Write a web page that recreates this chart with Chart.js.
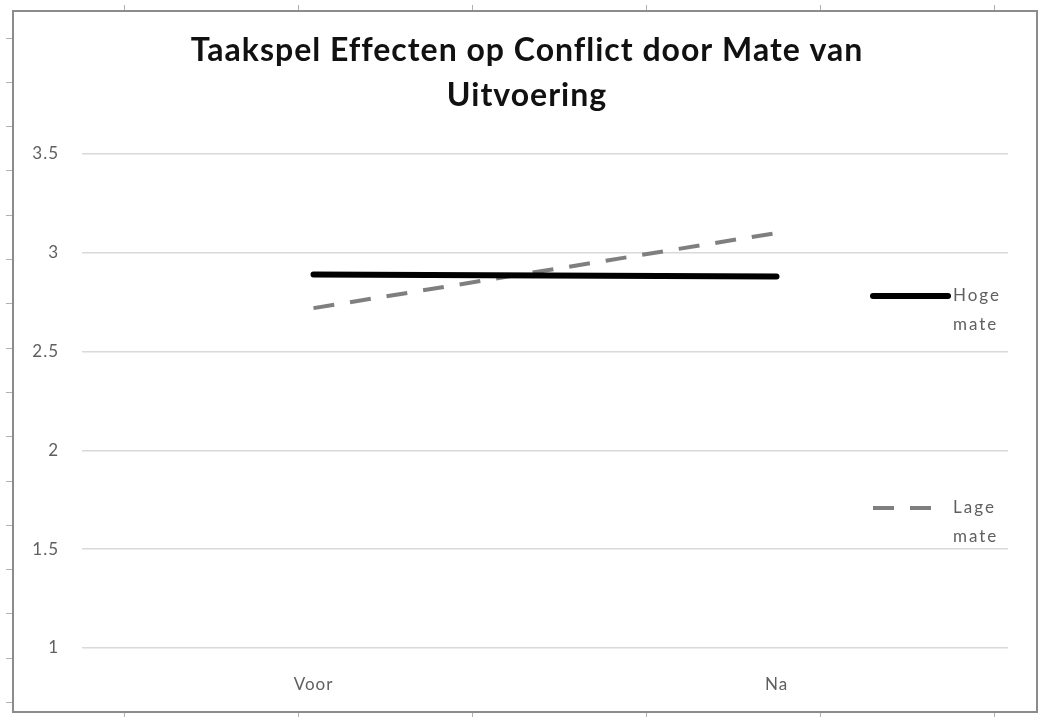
<!DOCTYPE html>
<html lang="nl">
<head>
<meta charset="utf-8">
<title>Taakspel Effecten op Conflict door Mate van Uitvoering</title>
<script src="https://cdn.jsdelivr.net/npm/chart.js@4/dist/chart.umd.min.js"></script>
<style>
    html, body { margin: 0; padding: 0; background: #ffffff; }
    #wrap { position: relative; width: 1040px; height: 717px; }
</style>
</head>
<body>
<div id="wrap"><canvas id="chart"></canvas></div>
<script>
const categories = ['Voor', 'Na'];
const hogeMate = [2.89, 2.88];
const lageMate = [2.72, 3.10];
const seriesLabels = [['Hoge', 'mate'], ['Lage', 'mate']];
const titleLines = ['Taakspel Effecten op Conflict door Mate van', 'Uitvoering'];

const tickFont = { family: 'Lato, "Open Sans", sans-serif', size: 17 };
const tickColor = '#5f5f5f';

// white page, outer frame and the little ruler marks around it
const framePlugin = {
    id: 'frame',
    beforeDraw(chart) {
        const { ctx, width, height } = chart;
        ctx.fillStyle = '#ffffff';
        ctx.fillRect(0, 0, width, height);
        // the source text is rendered slightly spaced out
        ctx.letterSpacing = '1px';
    },
    afterDraw(chart) {
        const { ctx } = chart;
        ctx.save();
        ctx.strokeStyle = '#8c8c8c';
        ctx.lineWidth = 2;
        ctx.strokeRect(13, 11, 1024, 701);

        ctx.strokeStyle = '#b0b0b0';
        ctx.lineWidth = 1;
        ctx.beginPath();
        for (let x = 124; x < 1040; x += 174) {
            ctx.moveTo(x + 0.5, 5);
            ctx.lineTo(x + 0.5, 10);
            ctx.moveTo(x + 0.5, 713);
            ctx.lineTo(x + 0.5, 717);
        }
        for (let y = 702; y > 20; y -= 44.3) {
            ctx.moveTo(6, Math.round(y) + 0.5);
            ctx.lineTo(12, Math.round(y) + 0.5);
        }
        ctx.stroke();
        ctx.restore();
    },
};

// legend drawn inside the plot on the right, text wrapped on two lines
const sideLegend = {
    id: 'sideLegend',
    afterDatasetsDraw(chart) {
        const { ctx, chartArea } = chart;
        const x0 = chartArea.right - 135;
        const rows = [chartArea.top + 142, chartArea.top + 354];
        ctx.save();
        chart.data.datasets.forEach((ds, i) => {
            const y = rows[i];
            ctx.strokeStyle = ds.borderColor;
            ctx.lineWidth = ds.borderWidth;
            ctx.lineCap = ds.borderDash ? 'butt' : 'round';
            ctx.setLineDash(ds.borderDash || []);
            ctx.beginPath();
            ctx.moveTo(x0, y);
            ctx.lineTo(ds.borderDash ? x0 + 59 : x0 + 75, y);
            ctx.stroke();
            ctx.setLineDash([]);

            ctx.fillStyle = tickColor;
            ctx.font = `${tickFont.size}px ${tickFont.family}`;
            ctx.letterSpacing = '2px';
            ctx.textAlign = 'left';
            ctx.textBaseline = 'middle';
            seriesLabels[i].forEach((line, j) => {
                ctx.fillText(line, x0 + 80, y + j * 29);
            });
        });
        ctx.restore();
    },
};

new Chart(document.getElementById('chart'), {
    type: 'line',
    data: {
        labels: categories,
        datasets: [
            {
                label: 'Hoge mate',
                data: hogeMate,
                borderColor: '#000000',
                borderWidth: 6,
                borderCapStyle: 'round',
                pointRadius: 0,
                tension: 0,
            },
            {
                label: 'Lage mate',
                data: lageMate,
                borderColor: '#7f7f7f',
                borderWidth: 4,
                borderDash: [21, 16],
                pointRadius: 0,
                tension: 0,
            },
        ],
    },
    options: {
        responsive: true,
        maintainAspectRatio: false,
        animation: false,
        layout: {
            padding: { left: 14, right: 0, top: 0, bottom: 0 },
        },
        scales: {
            x: {
                offset: true,
                grid: { display: false, drawTicks: false },
                border: { display: false },
                ticks: { color: tickColor, font: tickFont, padding: 26 },
                afterFit(scale) { scale.height = 69; },
            },
            y: {
                min: 1,
                max: 3.5,
                grid: { color: '#d9d9d9', lineWidth: 1.5, drawTicks: false },
                border: { display: false },
                ticks: {
                    stepSize: 0.5,
                    color: tickColor,
                    font: tickFont,
                    padding: 23,
                    callback: (value) => String(value),
                },
                afterFit(scale) { scale.width = 68; },
            },
            // empty right axis only keeps a margin so the title stays centred on the page
            yRight: {
                position: 'right',
                min: 1,
                max: 3.5,
                grid: { display: false, drawTicks: false },
                border: { display: false },
                ticks: { display: false },
                afterFit(scale) { scale.width = 32; },
            },
        },
        plugins: {
            legend: { display: false },
            tooltip: { enabled: false },
            title: {
                display: true,
                text: titleLines,
                color: '#111111',
                font: { family: 'Lato, "Open Sans", sans-serif', size: 32, weight: 'bold', lineHeight: 1.406 },
                padding: { top: 28, bottom: 36 },
            },
        },
    },
    plugins: [framePlugin, sideLegend],
});
</script>
</body>
</html>
